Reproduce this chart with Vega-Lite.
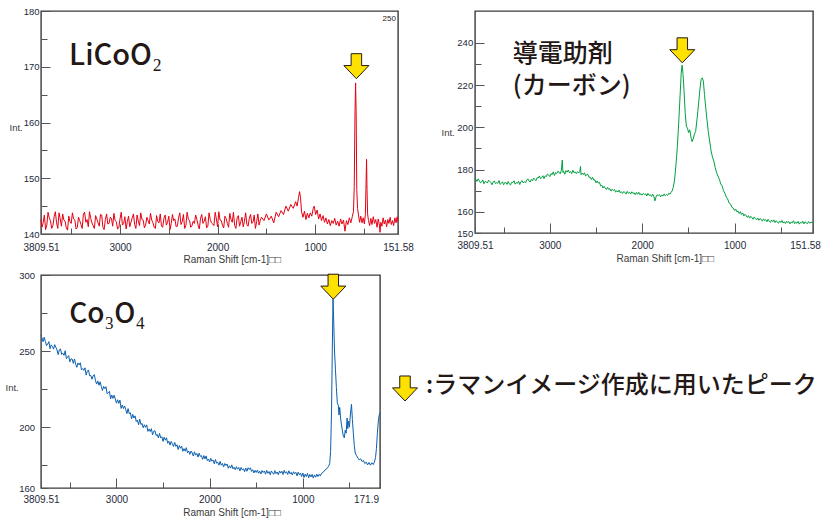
{
"$schema": "https://vega.github.io/schema/vega-lite/v6.json",
"padding": {"left": 4, "top": 5, "right": 0, "bottom": 0},
"background": "white",
"columns": 2,
"spacing": {"row": 41, "column": 77},
"bounds": "flush",
"config": {
  "view": {"stroke": "#3a3a3a", "strokeWidth": 1.4},
  "axis": {"domain": false, "grid": false, "labelFont": "Liberation Sans", "labelFontSize": 10, "labelColor": "#1e2a3a", "titleFont": "Liberation Sans", "titleFontSize": 10, "titleFontWeight": "normal", "titleColor": "#3a3a3a", "tickColor": "#555555", "tickWidth": 1}
},
"datasets": {
"licoo2": [
{"x":3809.51,"y":142.6},{"x":3800,"y":141.2},{"x":3775,"y":143.4},{"x":3750,"y":141.6},{"x":3725,"y":142.9},{"x":3700,"y":141.0},{"x":3675,"y":143.1},{"x":3650,"y":142.0},{"x":3625,"y":143.8},{"x":3600,"y":141.4},{"x":3575,"y":142.5},{"x":3550,"y":141.1},{"x":3525,"y":143.2},{"x":3500,"y":141.9},{"x":3475,"y":142.7},{"x":3450,"y":140.9},{"x":3425,"y":143.0},{"x":3400,"y":141.7},{"x":3375,"y":143.6},{"x":3350,"y":142.1},{"x":3325,"y":141.3},{"x":3300,"y":142.8},{"x":3275,"y":141.5},{"x":3250,"y":143.3},{"x":3225,"y":142.0},{"x":3200,"y":143.5},{"x":3175,"y":141.2},{"x":3150,"y":142.6},{"x":3125,"y":141.8},{"x":3100,"y":143.0},{"x":3075,"y":141.4},{"x":3050,"y":142.4},{"x":3025,"y":140.9},{"x":3000,"y":142.7},{"x":2975,"y":141.6},{"x":2950,"y":143.1},{"x":2925,"y":142.2},{"x":2900,"y":141.3},{"x":2875,"y":142.9},{"x":2850,"y":141.7},{"x":2825,"y":143.4},{"x":2800,"y":141.5},{"x":2775,"y":142.6},{"x":2750,"y":141.1},{"x":2725,"y":143.0},{"x":2700,"y":141.8},{"x":2675,"y":142.5},{"x":2650,"y":141.2},{"x":2625,"y":143.3},{"x":2600,"y":142.0},{"x":2575,"y":141.4},{"x":2550,"y":142.8},{"x":2525,"y":141.6},{"x":2500,"y":143.2},{"x":2475,"y":141.9},{"x":2450,"y":142.4},{"x":2425,"y":141.3},{"x":2400,"y":142.9},{"x":2375,"y":141.7},{"x":2350,"y":143.5},{"x":2325,"y":141.5},{"x":2300,"y":142.7},{"x":2275,"y":141.2},{"x":2250,"y":142.3},{"x":2225,"y":143.4},{"x":2200,"y":141.6},{"x":2175,"y":142.8},{"x":2150,"y":141.9},{"x":2125,"y":143.1},{"x":2100,"y":141.4},{"x":2075,"y":142.6},{"x":2050,"y":141.8},{"x":2025,"y":143.9},{"x":2000,"y":141.3},{"x":1975,"y":142.5},{"x":1950,"y":141.6},{"x":1925,"y":143.2},{"x":1900,"y":141.9},{"x":1875,"y":143.7},{"x":1850,"y":142.1},{"x":1825,"y":141.5},{"x":1800,"y":142.9},{"x":1775,"y":141.4},{"x":1750,"y":143.0},{"x":1725,"y":142.3},{"x":1700,"y":141.7},{"x":1675,"y":142.8},{"x":1650,"y":141.9},{"x":1625,"y":143.4},{"x":1600,"y":142.2},{"x":1575,"y":141.6},{"x":1550,"y":143.0},
{"x":1525,"y":142.4},{"x":1500,"y":143.6},{"x":1475,"y":142.5},{"x":1450,"y":143.2},{"x":1425,"y":142.0},{"x":1400,"y":143.9},{"x":1375,"y":143.1},{"x":1350,"y":144.2},{"x":1325,"y":143.5},{"x":1300,"y":145.0},{"x":1275,"y":144.1},{"x":1250,"y":145.3},{"x":1225,"y":144.6},{"x":1200,"y":145.8},{"x":1185,"y":145.0},{"x":1170,"y":146.6},{"x":1160,"y":147.6},{"x":1150,"y":146.5},{"x":1140,"y":144.0},{"x":1125,"y":143.0},{"x":1110,"y":144.1},{"x":1095,"y":142.6},{"x":1080,"y":143.7},{"x":1065,"y":142.9},{"x":1050,"y":143.8},{"x":1035,"y":143.2},{"x":1020,"y":144.6},{"x":1010,"y":145.0},{"x":995,"y":143.5},{"x":980,"y":144.3},{"x":965,"y":142.7},{"x":950,"y":143.6},{"x":935,"y":142.4},{"x":920,"y":143.3},{"x":905,"y":142.1},{"x":890,"y":142.9},{"x":875,"y":141.8},{"x":860,"y":142.6},{"x":845,"y":141.5},{"x":830,"y":142.4},{"x":815,"y":141.9},{"x":800,"y":142.8},{"x":785,"y":141.6},{"x":770,"y":142.3},{"x":755,"y":141.4},{"x":740,"y":142.7},{"x":725,"y":141.8},{"x":710,"y":142.5},{"x":695,"y":140.5},{"x":680,"y":142.4},{"x":665,"y":141.7},{"x":650,"y":142.9},{"x":635,"y":142.0},{"x":620,"y":143.1},{"x":608,"y":144.0},{"x":600,"y":148.5},{"x":592,"y":162.0},{"x":586,"y":167.1},{"x":580,"y":161.0},{"x":574,"y":148.0},{"x":566,"y":144.6},{"x":556,"y":143.4},{"x":545,"y":142.1},{"x":533,"y":143.2},{"x":520,"y":142.0},{"x":508,"y":142.9},{"x":496,"y":141.8},{"x":486,"y":143.5},{"x":479,"y":149.0},{"x":474,"y":153.4},{"x":469,"y":148.0},{"x":463,"y":143.6},{"x":454,"y":142.4},{"x":442,"y":141.5},{"x":430,"y":142.8},{"x":418,"y":141.7},{"x":405,"y":143.1},{"x":392,"y":141.9},{"x":380,"y":142.6},{"x":366,"y":141.2},{"x":354,"y":142.7},{"x":342,"y":141.6},{"x":336,"y":140.3},{"x":328,"y":142.1},{"x":316,"y":141.4},{"x":304,"y":142.9},{"x":292,"y":141.8},{"x":280,"y":142.5},{"x":268,"y":141.3},{"x":256,"y":142.6},{"x":244,"y":141.9},{"x":232,"y":143.0},{"x":220,"y":141.7},{"x":208,"y":142.4},{"x":196,"y":141.5},{"x":184,"y":142.9},{"x":172,"y":142.0},{"x":160,"y":143.1},{"x":151.58,"y":142.2},
{"x":3787.5,"y":142.0},{"x":3762.5,"y":140.8},{"x":3737.5,"y":143.9},{"x":3712.5,"y":142.4},{"x":3687.5,"y":141.5},{"x":3662.5,"y":144.0},{"x":3637.5,"y":141.0},{"x":3612.5,"y":142.7},{"x":3587.5,"y":143.6},{"x":3562.5,"y":142.3},{"x":3537.5,"y":140.7},{"x":3512.5,"y":142.2},{"x":3487.5,"y":143.8},{"x":3462.5,"y":142.5},{"x":3437.5,"y":141.2},{"x":3412.5,"y":142.4},{"x":3387.5,"y":141.0},{"x":3362.5,"y":143.9},{"x":3337.5,"y":142.6},{"x":3312.5,"y":144.0},{"x":3287.5,"y":142.0},{"x":3262.5,"y":141.0},{"x":3237.5,"y":142.7},{"x":3212.5,"y":141.4},{"x":3187.5,"y":143.4},{"x":3162.5,"y":140.8},{"x":3137.5,"y":143.6},{"x":3112.5,"y":141.9},{"x":3087.5,"y":142.8},{"x":3062.5,"y":143.7},{"x":3037.5,"y":142.2},{"x":3012.5,"y":141.1},{"x":2987.5,"y":143.9},{"x":2962.5,"y":141.9},{"x":2937.5,"y":140.9},{"x":2912.5,"y":143.2},{"x":2887.5,"y":142.1},{"x":2862.5,"y":143.6},{"x":2837.5,"y":141.0},{"x":2812.5,"y":142.3},{"x":2787.5,"y":143.8},{"x":2762.5,"y":142.5},{"x":2737.5,"y":141.6},{"x":2712.5,"y":142.4},{"x":2687.5,"y":143.7},{"x":2662.5,"y":142.0},{"x":2637.5,"y":141.0},{"x":2612.5,"y":142.2},{"x":2587.5,"y":143.6},{"x":2562.5,"y":141.2},{"x":2537.5,"y":143.4},{"x":2512.5,"y":142.1},{"x":2487.5,"y":140.8},{"x":2462.5,"y":143.5},{"x":2437.5,"y":142.7},{"x":2412.5,"y":141.4},{"x":2387.5,"y":143.8},{"x":2362.5,"y":142.2},{"x":2337.5,"y":141.0},{"x":2312.5,"y":143.9},{"x":2287.5,"y":142.4},{"x":2262.5,"y":141.5},{"x":2237.5,"y":141.9},{"x":2212.5,"y":142.6},{"x":2187.5,"y":140.9},{"x":2162.5,"y":143.5},{"x":2137.5,"y":142.3},{"x":2112.5,"y":141.1},{"x":2087.5,"y":143.8},{"x":2062.5,"y":142.0},{"x":2037.5,"y":141.5},{"x":2012.5,"y":142.7},{"x":1987.5,"y":144.0},{"x":1962.5,"y":142.4},{"x":1937.5,"y":141.1},{"x":1912.5,"y":142.8},{"x":1887.5,"y":141.2},{"x":1862.5,"y":142.6},{"x":1837.5,"y":143.9},{"x":1812.5,"y":141.0},{"x":1787.5,"y":143.3},{"x":1762.5,"y":142.2},{"x":1737.5,"y":141.3},{"x":1712.5,"y":143.8},{"x":1687.5,"y":141.4},{"x":1662.5,"y":143.5},{"x":1637.5,"y":142.1},{"x":1612.5,"y":141.0},{"x":1587.5,"y":143.6},{"x":1562.5,"y":142.5}
],
"carbon": [
{"x":3809.51,"y":175.8},{"x":3800,"y":175.3},{"x":3787.5,"y":174.4},{"x":3775,"y":175.6},{"x":3762.5,"y":174.7},{"x":3750,"y":173.7},{"x":3737.5,"y":174.2},{"x":3725,"y":175.1},{"x":3712.5,"y":173.3},{"x":3700,"y":174.4},{"x":3687.5,"y":174.2},{"x":3675,"y":173.6},{"x":3662.5,"y":175.0},{"x":3650,"y":174.4},{"x":3637.5,"y":173.8},{"x":3625,"y":172.8},{"x":3612.5,"y":174.2},{"x":3600,"y":174.6},{"x":3587.5,"y":173.4},{"x":3575,"y":173.8},{"x":3562.5,"y":173.5},{"x":3550,"y":174.8},{"x":3537.5,"y":173.0},{"x":3525,"y":173.5},{"x":3512.5,"y":174.2},{"x":3500,"y":172.8},{"x":3487.5,"y":173.8},{"x":3475,"y":173.9},{"x":3462.5,"y":173.0},{"x":3450,"y":174.4},{"x":3437.5,"y":173.2},{"x":3425,"y":172.7},{"x":3412.5,"y":174.0},{"x":3400,"y":173.8},{"x":3387.5,"y":174.7},{"x":3375,"y":173.1},{"x":3362.5,"y":173.8},{"x":3350,"y":173.5},{"x":3337.5,"y":174.5},{"x":3325,"y":172.9},{"x":3312.5,"y":174.3},{"x":3300,"y":174.8},{"x":3287.5,"y":173.7},{"x":3275,"y":174.3},{"x":3262.5,"y":173.7},{"x":3250,"y":175.0},{"x":3237.5,"y":175.6},{"x":3225,"y":174.6},{"x":3212.5,"y":174.1},{"x":3200,"y":175.4},{"x":3187.5,"y":174.7},{"x":3175,"y":176.0},{"x":3162.5,"y":175.3},{"x":3150,"y":174.7},{"x":3137.5,"y":176.2},{"x":3125,"y":176.0},{"x":3112.5,"y":177.0},{"x":3100,"y":175.6},{"x":3087.5,"y":176.3},{"x":3075,"y":177.1},{"x":3062.5,"y":175.7},{"x":3050,"y":177.0},{"x":3037.5,"y":176.7},{"x":3025,"y":177.9},{"x":3012.5,"y":177.4},{"x":3000,"y":176.7},{"x":2987.5,"y":178.1},{"x":2975,"y":177.6},{"x":2962.5,"y":178.9},{"x":2950,"y":177.2},{"x":2937.5,"y":178.6},{"x":2925,"y":178.1},{"x":2912.5,"y":179.2},{"x":2900,"y":178.8},{"x":2887.5,"y":178.0},{"x":2875,"y":179.7},{"x":2865,"y":184.5},{"x":2857.5,"y":178.6},{"x":2850,"y":179.2},{"x":2837.5,"y":177.8},{"x":2825,"y":179.5},{"x":2812.5,"y":178.8},{"x":2800,"y":179.8},{"x":2787.5,"y":178.5},{"x":2775,"y":179.1},{"x":2762.5,"y":178.1},{"x":2750,"y":179.7},{"x":2737.5,"y":178.5},{"x":2725,"y":178.9},{"x":2712.5,"y":178.1},{"x":2700,"y":179.0},{"x":2687.5,"y":178.4},{"x":2675,"y":179.2},{"x":2667.5,"y":181.5},{"x":2662.5,"y":177.6},{"x":2650,"y":178.3},{"x":2637.5,"y":177.6},{"x":2625,"y":178.5},{"x":2612.5,"y":176.9},{"x":2600,"y":177.7},{"x":2587.5,"y":177.7},{"x":2575,"y":176.3},{"x":2562.5,"y":176.4},{"x":2550,"y":175.3},{"x":2537.5,"y":176.4},{"x":2525,"y":175.0},{"x":2512.5,"y":175.2},{"x":2500,"y":173.7},{"x":2487.5,"y":174.6},{"x":2475,"y":173.6},{"x":2462.5,"y":174.0},{"x":2450,"y":172.3},{"x":2437.5,"y":172.6},{"x":2425,"y":171.3},{"x":2412.5,"y":172.1},{"x":2400,"y":171.2},{"x":2387.5,"y":170.6},{"x":2375,"y":171.6},{"x":2362.5,"y":170.6},{"x":2350,"y":171.0},{"x":2337.5,"y":169.8},{"x":2325,"y":170.7},{"x":2312.5,"y":170.1},{"x":2300,"y":170.6},{"x":2287.5,"y":169.3},{"x":2275,"y":170.0},{"x":2262.5,"y":169.4},{"x":2250,"y":170.3},{"x":2237.5,"y":169.0},{"x":2225,"y":169.5},{"x":2212.5,"y":168.7},{"x":2200,"y":169.6},{"x":2187.5,"y":169.2},{"x":2175,"y":168.4},{"x":2162.5,"y":169.7},{"x":2150,"y":168.8},{"x":2137.5,"y":169.3},{"x":2125,"y":168.4},{"x":2112.5,"y":169.5},{"x":2100,"y":168.7},{"x":2087.5,"y":169.0},{"x":2075,"y":168.1},{"x":2062.5,"y":169.2},{"x":2050,"y":168.3},{"x":2037.5,"y":169.3},{"x":2025,"y":168.1},{"x":2012.5,"y":168.6},{"x":2000,"y":167.9},{"x":1987.5,"y":168.8},{"x":1975,"y":168.2},{"x":1962.5,"y":168.5},{"x":1950,"y":167.5},{"x":1937.5,"y":168.7},{"x":1925,"y":167.8},{"x":1912.5,"y":168.1},{"x":1900,"y":167.3},{"x":1887.5,"y":168.4},{"x":1875,"y":167.5},{"x":1862.5,"y":165.2},{"x":1850,"y":167.1},{"x":1837.5,"y":168.1},{"x":1825,"y":167.7},{"x":1812.5,"y":168.1},{"x":1800,"y":167.1},{"x":1787.5,"y":167.9},{"x":1775,"y":167.5},{"x":1762.5,"y":168.5},{"x":1750,"y":167.6},{"x":1737.5,"y":168.2},{"x":1725,"y":167.7},{"x":1712.5,"y":168.8},{"x":1700,"y":168.4},{"x":1687.5,"y":169.3},{"x":1675,"y":169.9},
{"x":1665,"y":171.5},{"x":1650,"y":175.0},{"x":1635,"y":182.0},{"x":1620,"y":190.5},{"x":1605,"y":202.0},{"x":1590,"y":215.0},{"x":1578,"y":225.5},{"x":1568,"y":229.4},{"x":1558,"y":225.0},{"x":1548,"y":218.0},{"x":1535,"y":207.0},{"x":1522,"y":200.5},{"x":1510,"y":199.6},{"x":1498,"y":197.5},{"x":1485,"y":198.8},{"x":1472,"y":195.2},{"x":1460,"y":193.2},{"x":1448,"y":194.5},{"x":1435,"y":196.8},{"x":1422,"y":198.0},{"x":1410,"y":202.5},{"x":1398,"y":207.5},{"x":1386,"y":213.0},{"x":1374,"y":218.5},{"x":1362,"y":222.6},{"x":1350,"y":223.4},{"x":1338,"y":221.8},{"x":1326,"y":215.5},{"x":1314,"y":210.0},{"x":1300,"y":204.0},{"x":1285,"y":198.0},{"x":1270,"y":193.5},{"x":1255,"y":189.0},{"x":1240,"y":186.0},{"x":1225,"y":184.0},{"x":1210,"y":181.0},{"x":1195,"y":178.5},{"x":1180,"y":176.9},{"x":1165,"y":175.4},{"x":1150,"y":173.2},{"x":1135,"y":172.3},{"x":1120,"y":170.0},{"x":1105,"y":168.8},{"x":1090,"y":167.0},{"x":1075,"y":166.1},{"x":1060,"y":164.2},{"x":1045,"y":163.8},{"x":1030,"y":162.2},{"x":1015,"y":161.8},
{"x":1000,"y":160.6},{"x":987.5,"y":161.3},{"x":975,"y":160.0},{"x":962.5,"y":160.4},{"x":950,"y":159.2},{"x":937.5,"y":160.1},{"x":925,"y":158.7},{"x":912.5,"y":159.5},{"x":900,"y":158.0},{"x":887.5,"y":158.9},{"x":875,"y":158.3},{"x":862.5,"y":157.4},{"x":850,"y":158.2},{"x":837.5,"y":157.0},{"x":825,"y":157.9},{"x":812.5,"y":157.2},{"x":800,"y":156.5},{"x":787.5,"y":157.6},{"x":775,"y":156.8},{"x":762.5,"y":156.2},{"x":750,"y":157.1},{"x":737.5,"y":156.0},{"x":725,"y":156.9},{"x":712.5,"y":156.4},{"x":700,"y":155.6},{"x":687.5,"y":156.7},{"x":675,"y":155.9},{"x":662.5,"y":156.3},{"x":650,"y":155.3},{"x":637.5,"y":156.5},{"x":625,"y":155.6},{"x":612.5,"y":155.0},{"x":600,"y":156.1},{"x":587.5,"y":155.4},{"x":575,"y":156.2},{"x":562.5,"y":154.9},{"x":550,"y":155.8},{"x":537.5,"y":155.1},{"x":525,"y":154.6},{"x":512.5,"y":155.7},{"x":500,"y":155.0},{"x":487.5,"y":155.9},{"x":475,"y":154.7},{"x":462.5,"y":155.3},{"x":450,"y":154.5},{"x":437.5,"y":155.6},{"x":425,"y":154.9},{"x":412.5,"y":155.4},{"x":400,"y":154.3},{"x":387.5,"y":155.2},{"x":375,"y":154.8},{"x":362.5,"y":155.8},{"x":350,"y":154.4},{"x":337.5,"y":155.1},{"x":325,"y":154.6},{"x":312.5,"y":155.5},{"x":300,"y":154.2},{"x":287.5,"y":155.0},{"x":275,"y":154.7},{"x":262.5,"y":155.6},{"x":250,"y":154.3},{"x":237.5,"y":155.3},{"x":225,"y":154.8},{"x":212.5,"y":154.4},{"x":200,"y":155.4},{"x":187.5,"y":154.6},{"x":175,"y":155.2},{"x":162.5,"y":154.9},{"x":151.58,"y":155.5}
],
"co3o4": [
{"x":3809.51,"y":260.5},{"x":3800,"y":258.7},{"x":3787.5,"y":256.2},{"x":3775,"y":259.1},{"x":3762.5,"y":256.3},{"x":3750,"y":253.6},{"x":3737.5,"y":254.6},{"x":3725,"y":256.2},{"x":3712.5,"y":251.5},{"x":3700,"y":254.1},{"x":3687.5,"y":253.1},{"x":3675,"y":251.3},{"x":3662.5,"y":254.2},{"x":3650,"y":252.5},{"x":3637.5,"y":250.7},{"x":3625,"y":247.7},{"x":3612.5,"y":250.9},{"x":3600,"y":251.4},{"x":3587.5,"y":247.8},{"x":3575,"y":248.6},{"x":3562.5,"y":247.2},{"x":3550,"y":250.2},{"x":3537.5,"y":245.0},{"x":3525,"y":245.9},{"x":3512.5,"y":247.0},{"x":3500,"y":242.9},{"x":3487.5,"y":244.9},{"x":3475,"y":244.7},{"x":3462.5,"y":241.9},{"x":3450,"y":244.8},{"x":3437.5,"y":241.3},{"x":3425,"y":239.3},{"x":3412.5,"y":242.2},{"x":3400,"y":240.9},{"x":3387.5,"y":242.3},{"x":3375,"y":237.7},{"x":3362.5,"y":238.5},{"x":3350,"y":237.3},{"x":3337.5,"y":239.0},{"x":3325,"y":234.2},{"x":3312.5,"y":236.8},{"x":3300,"y":237.6},{"x":3287.5,"y":233.8},{"x":3275,"y":234.0},{"x":3262.5,"y":231.5},{"x":3250,"y":233.8},{"x":3237.5,"y":234.5},{"x":3225,"y":230.5},{"x":3212.5,"y":228.3},{"x":3200,"y":230.4},{"x":3187.5,"y":227.5},{"x":3175,"y":229.8},{"x":3162.5,"y":226.7},{"x":3150,"y":224.1},{"x":3137.5,"y":226.8},{"x":3125,"y":225.3},{"x":3112.5,"y":226.6},{"x":3100,"y":222.0},{"x":3087.5,"y":222.6},{"x":3075,"y":223.5},{"x":3062.5,"y":218.6},{"x":3050,"y":221.1},{"x":3037.5,"y":218.9},{"x":3025,"y":221.0},{"x":3012.5,"y":218.5},{"x":3000,"y":215.8},{"x":2987.5,"y":218.0},{"x":2975,"y":215.6},{"x":2962.5,"y":217.8},{"x":2950,"y":212.3},{"x":2937.5,"y":214.5},{"x":2925,"y":212.2},{"x":2912.5,"y":213.9},{"x":2900,"y":211.6},{"x":2887.5,"y":208.9},{"x":2875,"y":212.2},{"x":2862.5,"y":208.8},{"x":2850,"y":209.4},{"x":2837.5,"y":205.4},{"x":2825,"y":208.4},{"x":2812.5,"y":206.0},{"x":2800,"y":207.4},{"x":2787.5,"y":203.7},{"x":2775,"y":204.7},{"x":2762.5,"y":201.6},{"x":2750,"y":205.3},{"x":2737.5,"y":201.7},{"x":2725,"y":202.4},{"x":2712.5,"y":199.6},{"x":2700,"y":201.6},{"x":2687.5,"y":199.9},{"x":2675,"y":201.5},{"x":2662.5,"y":197.2},{"x":2650,"y":198.8},{"x":2637.5,"y":197.1},{"x":2625,"y":199.0},{"x":2612.5,"y":194.9},{"x":2600,"y":197.3},{"x":2587.5,"y":197.7},{"x":2575,"y":194.5},{"x":2562.5,"y":195.2},{"x":2550,"y":192.9},{"x":2537.5,"y":195.9},{"x":2525,"y":192.9},{"x":2512.5,"y":193.7},{"x":2500,"y":190.6},{"x":2487.5,"y":193.4},{"x":2475,"y":191.4},{"x":2462.5,"y":193.0},{"x":2450,"y":189.4},{"x":2437.5,"y":190.7},{"x":2425,"y":188.2},{"x":2412.5,"y":190.6},{"x":2400,"y":189.0},{"x":2387.5,"y":187.3},{"x":2375,"y":190.0},{"x":2362.5,"y":187.4},{"x":2350,"y":188.4},{"x":2337.5,"y":185.3},{"x":2325,"y":187.9},{"x":2312.5,"y":186.1},{"x":2300,"y":187.5},{"x":2287.5,"y":184.1},{"x":2275,"y":185.9},{"x":2262.5,"y":184.2},{"x":2250,"y":186.5},{"x":2237.5,"y":183.1},{"x":2225,"y":184.3},{"x":2212.5,"y":182.1},{"x":2200,"y":184.3},{"x":2187.5,"y":183.1},{"x":2175,"y":181.0},{"x":2162.5,"y":183.8},{"x":2150,"y":181.6},{"x":2137.5,"y":182.7},{"x":2125,"y":180.3},{"x":2112.5,"y":182.9},{"x":2100,"y":180.8},{"x":2087.5,"y":181.2},{"x":2075,"y":178.8},{"x":2062.5,"y":181.3},{"x":2050,"y":179.1},{"x":2037.5,"y":181.1},{"x":2025,"y":178.0},{"x":2012.5,"y":179.0},{"x":2000,"y":177.1},{"x":1987.5,"y":179.5},{"x":1975,"y":177.6},{"x":1962.5,"y":178.4},{"x":1950,"y":175.9},{"x":1937.5,"y":178.7},{"x":1925,"y":176.3},{"x":1912.5,"y":176.9},{"x":1900,"y":175.0},{"x":1887.5,"y":177.5},{"x":1875,"y":175.0},{"x":1862.5,"y":176.1},{"x":1850,"y":173.9},{"x":1837.5,"y":176.1},{"x":1825,"y":174.7},{"x":1812.5,"y":175.8},{"x":1800,"y":173.0},{"x":1787.5,"y":174.6},{"x":1775,"y":173.1},{"x":1762.5,"y":175.2},{"x":1750,"y":172.6},{"x":1737.5,"y":173.6},{"x":1725,"y":172.0},{"x":1712.5,"y":174.0},{"x":1700,"y":172.4},{"x":1687.5,"y":173.5},{"x":1675,"y":171.2},{"x":1662.5,"y":173.5},{"x":1650,"y":172.0},{"x":1637.5,"y":172.6},{"x":1625,"y":170.7},{"x":1612.5,"y":173.1},{"x":1600,"y":171.0},{"x":1587.5,"y":173.3},{"x":1575,"y":172.2},{"x":1562.5,"y":173.3},{"x":1550,"y":170.9},{"x":1537.5,"y":172.0},{"x":1525,"y":169.9},{"x":1512.5,"y":171.6},{"x":1500,"y":170.2},{"x":1487.5,"y":171.8},{"x":1475,"y":169.7},{"x":1462.5,"y":171.0},{"x":1450,"y":169.2},{"x":1437.5,"y":171.5},{"x":1425,"y":170.2},{"x":1412.5,"y":171.2},{"x":1400,"y":169.1},{"x":1387.5,"y":171.6},{"x":1375,"y":169.7},{"x":1362.5,"y":170.8},{"x":1350,"y":168.7},{"x":1337.5,"y":171.2},{"x":1325,"y":170.0},{"x":1312.5,"y":169.0},{"x":1300,"y":171.4},{"x":1287.5,"y":169.4},{"x":1275,"y":170.5},{"x":1262.5,"y":168.7},{"x":1250,"y":171.2},{"x":1237.5,"y":169.8},{"x":1225,"y":171.0},{"x":1212.5,"y":168.9},{"x":1200,"y":171.6},{"x":1187.5,"y":169.7},{"x":1175,"y":170.7},{"x":1162.5,"y":168.9},{"x":1150,"y":171.3},{"x":1137.5,"y":169.3},{"x":1125,"y":170.3},{"x":1112.5,"y":168.5},{"x":1100,"y":170.7},{"x":1087.5,"y":169.4},{"x":1075,"y":170.3},{"x":1062.5,"y":168.0},{"x":1050,"y":170.4},{"x":1037.5,"y":168.7},{"x":1025,"y":169.8},{"x":1012.5,"y":167.5},{"x":1000,"y":169.9},{"x":987.5,"y":166.9},{"x":975,"y":169.1},{"x":962.5,"y":167.5},{"x":950,"y":169.6},{"x":937.5,"y":166.7},{"x":925,"y":168.9},{"x":912.5,"y":167.3},{"x":900,"y":168.9},{"x":887.5,"y":166.5},{"x":875,"y":168.6},{"x":862.5,"y":167.1},{"x":850,"y":169.1},{"x":837.5,"y":167.5},{"x":825,"y":169.0},{"x":812.5,"y":168.0},
{"x":800,"y":169.6},{"x":780,"y":170.4},{"x":760,"y":172.0},{"x":740,"y":172.8},{"x":725,"y":174.2},{"x":712,"y":176.0},{"x":702,"y":184.0},{"x":692,"y":210.0},{"x":684,"y":250.0},{"x":676,"y":284.1},{"x":668,"y":268.0},{"x":660,"y":250.0},{"x":650,"y":238.0},{"x":640,"y":226.0},{"x":630,"y":216.0},{"x":620,"y":214.5},{"x":612,"y":208.0},{"x":604,"y":213.0},{"x":595,"y":206.0},{"x":585,"y":201.5},{"x":575,"y":197.5},{"x":565,"y":194.0},{"x":555,"y":193.0},{"x":545,"y":198.0},{"x":535,"y":196.0},{"x":525,"y":206.0},{"x":518,"y":199.0},{"x":510,"y":204.0},{"x":500,"y":200.0},{"x":490,"y":208.0},{"x":478,"y":215.0},{"x":468,"y":205.0},{"x":458,"y":196.0},{"x":448,"y":188.0},{"x":438,"y":183.0},{"x":425,"y":181.5},{"x":410,"y":179.8},{"x":395,"y":178.5},{"x":380,"y":179.2},{"x":365,"y":177.4},{"x":350,"y":178.0},{"x":335,"y":176.1},{"x":320,"y":177.0},{"x":305,"y":175.2},{"x":290,"y":176.8},{"x":275,"y":175.0},{"x":260,"y":176.6},{"x":245,"y":175.4},{"x":232,"y":177.0},{"x":220,"y":180.0},{"x":210,"y":186.0},{"x":200,"y":196.0},{"x":190,"y":204.0},{"x":180,"y":208.0},{"x":171.9,"y":209.5}
]
},
"concat": [
{
  "width": 357, "height": 223,
  "encoding": {
    "x": {"field": "x", "type": "quantitative", "scale": {"domain": [151.58, 3809.51], "reverse": true, "nice": false, "zero": false},
      "axis": {"values": [3809.51, 3500, 3000, 2500, 2000, 1500, 1000, 500, 151.58],
        "labelExpr": "datum.value > 3800 ? '3809.51' : datum.value < 160 ? '151.58' : (datum.value % 1000 === 0 ? format(datum.value, 'd') : '')",
        "tickSize": {"condition": {"test": "datum.value % 1000 === 0", "value": -10}, "value": -6},
        "labelPadding": {"condition": {"test": "datum.value % 1000 === 0", "value": 23}, "value": 19},
        "labelBaseline": "middle", "labelFlush": false, "labelOverlap": false,
        "title": "Raman Shift [cm-1]□□", "titleX": 142, "titleY": 25, "titleAlign": "left", "titleBaseline": "middle"}},
    "y": {"field": "y", "type": "quantitative", "scale": {"domain": [140, 180], "nice": false, "zero": false},
      "axis": {"values": [140, 145, 150, 155, 160, 165, 170, 175, 180],
        "labelExpr": "datum.value % 10 === 0 ? datum.label : ''",
        "tickSize": {"condition": {"test": "datum.value % 10 === 0", "value": -9}, "value": -6},
        "labelPadding": {"condition": {"test": "datum.value % 10 === 0", "value": 11}, "value": 8},
        "labelOverlap": false, "labelFontSize": 9.5,
        "title": "Int.", "titleAngle": 0, "titleX": -32, "titleY": 116, "titleAlign": "left", "titleBaseline": "middle", "titleFontSize": 9.5}}
  },
  "layer": [
    {"data": {"name": "licoo2"}, "mark": {"type": "line", "color": "#e60012", "strokeWidth": 1}},
    {"data": {"values": [{"x": 3523, "y": 170.4, "t": "LiCoO₂"}]}, "mark": {"type": "text", "align": "left", "baseline": "alphabetic", "font": "Noto Sans CJK JP", "fontSize": 29, "fontWeight": 500, "color": "#231815"}, "encoding": {"text": {"field": "t"}}},
    {"data": {"values": [{"x": 172.4, "y": 178.5, "t": "250"}]}, "mark": {"type": "text", "align": "right", "baseline": "middle", "font": "Liberation Sans", "fontSize": 8, "color": "#231815"}, "encoding": {"text": {"field": "t"}}},
    {"data": {"values": [{"x": 578, "y": 170.1}]}, "mark": {"type": "point", "shape": "M-0.42,-1L0.42,-1L0.42,-0.05L1,-0.05L0,1L-1,-0.05L-0.42,-0.05Z", "size": 625, "filled": true, "fill": "#ffe100", "stroke": "#231815", "strokeWidth": 1, "opacity": 1}}
  ]
},
{
  "width": 338, "height": 222,
  "encoding": {
    "x": {"field": "x", "type": "quantitative", "scale": {"domain": [151.58, 3809.51], "reverse": true, "nice": false, "zero": false},
      "axis": {"values": [3809.51, 3500, 3000, 2500, 2000, 1500, 1000, 500, 151.58],
        "labelExpr": "datum.value > 3800 ? '3809.51' : datum.value < 160 ? '151.58' : (datum.value % 1000 === 0 ? format(datum.value, 'd') : '')",
        "tickSize": {"condition": {"test": "datum.value % 1000 === 0", "value": -10}, "value": -6},
        "labelPadding": {"condition": {"test": "datum.value % 1000 === 0", "value": 22.3}, "value": 18.3},
        "labelOffset": {"condition": {"test": "datum.value < 160", "value": -8}, "value": 0},
        "labelBaseline": "middle", "labelFlush": false, "labelOverlap": false,
        "title": "Raman Shift [cm-1]□□", "titleX": 141, "titleY": 25.7, "titleAlign": "left", "titleBaseline": "middle"}},
    "y": {"field": "y", "type": "quantitative", "scale": {"domain": [150, 255], "nice": false, "zero": false},
      "axis": {"values": [150, 160, 170, 180, 190, 200, 210, 220, 230, 240],
        "labelExpr": "(datum.value % 20 === 0 || datum.value === 150) ? datum.label : ''",
        "tickSize": {"condition": {"test": "datum.value % 20 === 0", "value": -9}, "value": -6},
        "labelPadding": {"condition": {"test": "datum.value % 20 === 0", "value": 11.3}, "value": 8.3},
        "labelOverlap": false, "labelFontSize": 9.5,
        "title": "Int.", "titleAngle": 0, "titleX": -34, "titleY": 121.7, "titleAlign": "left", "titleBaseline": "middle", "titleFontSize": 9.5}}
  },
  "layer": [
    {"data": {"name": "carbon"}, "mark": {"type": "line", "color": "#00a040", "strokeWidth": 1}},
    {"data": {"values": [{"x": 3401, "y": 234.6, "t": "導電助剤"}, {"x": 3401, "y": 219.5, "t": "(カーボン)"}]}, "mark": {"type": "text", "align": "left", "baseline": "middle", "font": "Noto Sans CJK JP", "fontSize": 25, "fontWeight": 500, "color": "#231815"}, "encoding": {"text": {"field": "t"}}},
    {"data": {"values": [{"x": 1566, "y": 236.4}]}, "mark": {"type": "point", "shape": "M-0.42,-1L0.42,-1L0.42,-0.05L1,-0.05L0,1L-1,-0.05L-0.42,-0.05Z", "size": 625, "filled": true, "fill": "#ffe100", "stroke": "#231815", "strokeWidth": 1, "opacity": 1}}
  ]
},
{
  "width": 339, "height": 213,
  "encoding": {
    "x": {"field": "x", "type": "quantitative", "scale": {"domain": [171.9, 3809.51], "reverse": true, "nice": false, "zero": false},
      "axis": {"values": [3809.51, 3500, 3000, 2500, 2000, 1500, 1000, 500, 171.9],
        "labelExpr": "datum.value > 3800 ? '3809.51' : datum.value < 180 ? '171.9' : (datum.value % 1000 === 0 ? format(datum.value, 'd') : '')",
        "tickSize": {"condition": {"test": "datum.value % 1000 === 0", "value": -10}, "value": -6},
        "labelPadding": {"condition": {"test": "datum.value % 1000 === 0", "value": 21.3}, "value": 17.3},
        "labelOffset": {"condition": {"test": "datum.value < 180", "value": -14}, "value": 0},
        "labelBaseline": "middle", "labelFlush": false, "labelOverlap": false,
        "title": "Raman Shift [cm-1]□□", "titleX": 141.7, "titleY": 24.7, "titleAlign": "left", "titleBaseline": "middle"}},
    "y": {"field": "y", "type": "quantitative", "scale": {"domain": [160, 300], "nice": false, "zero": false},
      "axis": {"values": [160, 175, 200, 225, 250, 275, 300],
        "labelExpr": "(datum.value % 50 === 0 || datum.value === 160) ? datum.label : ''",
        "tickSize": {"condition": {"test": "datum.value % 50 === 0", "value": -9}, "value": -6},
        "labelPadding": {"condition": {"test": "datum.value % 50 === 0", "value": 15.5}, "value": 12.5},
        "labelOverlap": false, "labelFontSize": 9.5,
        "title": "Int.", "titleAngle": 0, "titleX": -36, "titleY": 112, "titleAlign": "left", "titleBaseline": "middle", "titleFontSize": 9.5}}
  },
  "layer": [
    {"data": {"name": "co3o4"}, "mark": {"type": "line", "color": "#0b5fad", "strokeWidth": 1}},
    {"data": {"values": [{"x": 3506, "y": 268.3, "t": "Co₃O₄"}]}, "mark": {"type": "text", "align": "left", "baseline": "alphabetic", "font": "Noto Sans CJK JP", "fontSize": 28, "fontWeight": 500, "color": "#231815"}, "encoding": {"text": {"field": "t"}}},
    {"data": {"values": [{"x": -321.8, "y": 227.1, "t": ":ラマンイメージ作成に用いたピーク"}]}, "mark": {"type": "text", "align": "left", "baseline": "middle", "font": "Noto Sans CJK JP", "fontSize": 24, "fontWeight": 500, "color": "#231815"}, "encoding": {"text": {"field": "t"}}},
    {"data": {"values": [{"x": 673, "y": 292.3}, {"x": -96.5, "y": 225.4}]}, "mark": {"type": "point", "shape": "M-0.42,-1L0.42,-1L0.42,-0.05L1,-0.05L0,1L-1,-0.05L-0.42,-0.05Z", "size": 625, "filled": true, "fill": "#ffe100", "stroke": "#231815", "strokeWidth": 1, "opacity": 1}}
  ]
}
]
}
